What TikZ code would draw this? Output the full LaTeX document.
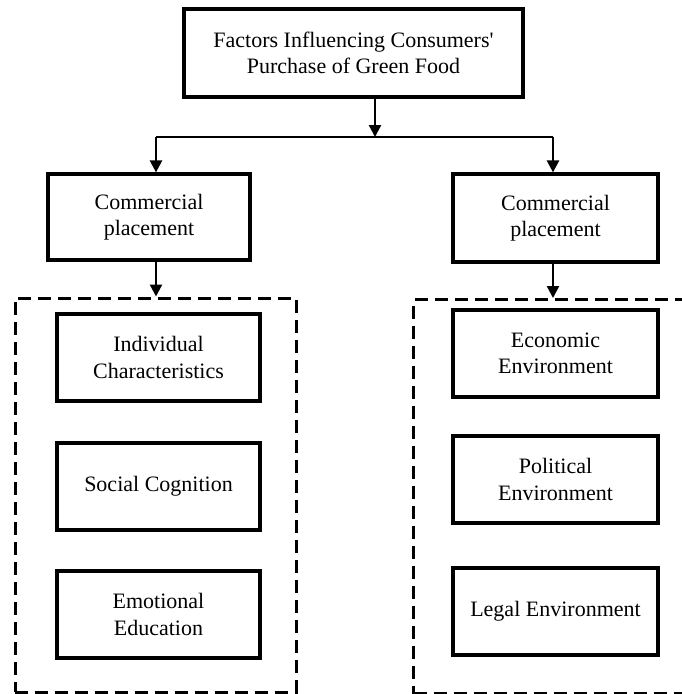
\documentclass[tikz,border=0pt]{standalone}
\usepackage{fontspec}
\setmainfont{Liberation Serif}[Ligatures=TeXOff]
\usetikzlibrary{arrows.meta}
\begin{document}
\begin{tikzpicture}[x=1pt,y=-1pt,
  box/.style={draw=black, line width=3.2pt, inner sep=0pt, align=center,
    font=\fontsize{22}{26.5}\selectfont},
  lbox/.style={box, minimum width=203pt, minimum height=87pt},
  rbox/.style={box, minimum width=205pt, minimum height=87pt},
  dashbox/.style={draw=black, line width=3pt, dash pattern=on 13pt off 7pt, inner sep=0pt},
  arr/.style={draw=black, line width=2.4pt, -{Triangle[width=12pt,length=12pt]}},
  link/.style={draw=black, line width=1.4pt}]
\useasboundingbox (0,0) rectangle (681,694);
\fill[white] (0,0) rectangle (681,694);
% top
\node[box, minimum width=339pt, minimum height=88pt] (top) at (353.5,53) {Factors Influencing Consumers'\\Purchase of Green Food};
% second level
\node[box, minimum width=202pt, minimum height=86pt] (cl) at (149,217) {Commercial\\placement};
\node[box, minimum width=205pt, minimum height=88pt] (cr) at (555.5,218) {Commercial\\placement};
% dashed groups
\node[dashbox, minimum width=281pt, minimum height=394pt] (gl) at (155.5,495) {};
\node[dashbox, minimum width=300pt, minimum height=394pt, anchor=north west] (gr) at (412,298) {};
% left items
\node[lbox] (ind) at (158.5,357.5) {Individual\\Characteristics};
\node[lbox] (soc) at (158.5,486.5) {Social Cognition};
\node[lbox] (emo) at (158.5,614.5) {Emotional\\Education};
% right items
\node[rbox] (eco) at (555.5,353.5) {Economic\\Environment};
\node[rbox] (pol) at (555.5,479.5) {Political\\Environment};
\node[rbox] (leg) at (555.5,611.5) {Legal Environment};
% connectors
\coordinate (jm) at (375,137);
\coordinate (jl) at (156,137);
\coordinate (jr) at (553,137);
\draw[link] (jl) -- (jr);
\draw[arr] (top.south -| jm) -- (jm);
\draw[arr] (jl) -- (jl |- cl.north);
\draw[arr] (jr) -- (jr |- cr.north);
\draw[arr] (cl.south -| jl) -- (jl |- gl.north);
\draw[arr] (cr.south -| jr) -- (jr |- gr.north);
\end{tikzpicture}
\end{document}
